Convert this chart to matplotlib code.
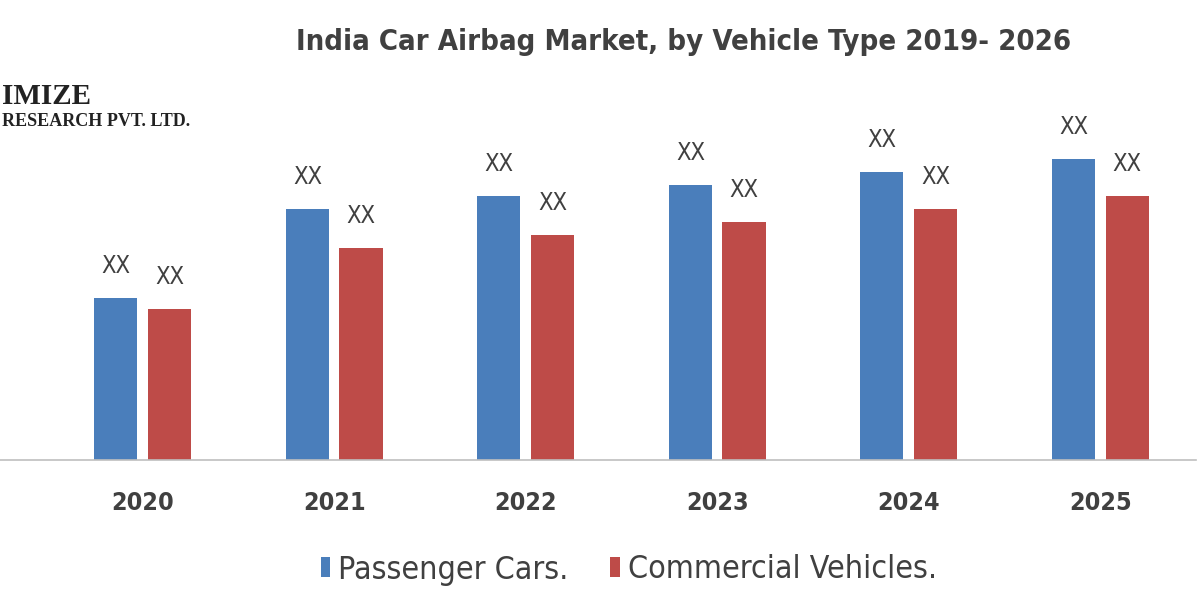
import matplotlib.pyplot as plt
import numpy as np

years = ['2020', '2021', '2022', '2023', '2024', '2025']
passenger = [162, 251, 264, 275, 288, 301]
commercial = [151, 212, 225, 238, 251, 264]
series_names = ['Passenger Cars.', 'Commercial Vehicles.']

plt.rcParams['font.family'] = ['DejaVu Sans']
plt.rcParams['font.stretch'] = 'condensed'
txt = '#404040'
blue = '#4a7ebb'
red = '#be4b48'

fig = plt.figure(figsize=(12, 6), dpi=100)
ax = fig.add_axes([0, 140 / 600, 1196 / 1200, 380 / 600])

x = np.arange(len(years))
w = 0.225
b1 = ax.bar(x - 0.14, passenger, w, color=blue, label=series_names[0])
b2 = ax.bar(x + 0.14, commercial, w, color=red, label=series_names[1])

for bars in (b1, b2):
    for r in bars:
        ax.text(r.get_x() + r.get_width() / 2, r.get_height() + 20, 'XX',
                ha='center', va='bottom', fontsize=17, color=txt)

ax.set_xlim(-0.745, 5.5)
ax.set_ylim(0, 380)
ax.set_yticks([])
for s in ['top', 'right', 'left']:
    ax.spines[s].set_visible(False)
ax.spines['bottom'].set_color('#bfbfbf')
ax.spines['bottom'].set_linewidth(1.2)
ax.set_xticks(x)
ax.set_xticklabels(years, fontsize=18, color=txt, fontweight='bold')
ax.tick_params(axis='x', length=0, pad=22)

fig.text(0.57, 0.93, 'India Car Airbag Market, by Vehicle Type 2019- 2026',
         ha='center', va='center', fontsize=21, color=txt, fontweight='bold')

# watermark logo (left part cut off in the source image)
fig.text(0.002, 1 - 96 / 600, 'IMIZE', ha='left', va='center',
         fontsize=21, family='Liberation Serif', fontweight='bold', color='#222222')
fig.text(0.002, 1 - 122 / 600, 'RESEARCH PVT. LTD.', ha='left',
         va='center', fontsize=13, family='Liberation Serif', fontweight='bold',
         color='#222222')

fig.legend(handles=[b1, b2], loc='center', bbox_to_anchor=(0.524, 1 - 570 / 600),
           ncol=2, frameon=False, fontsize=23, labelcolor=txt,
           handlelength=0.3, handleheight=0.6, handletextpad=0.25, columnspacing=1.3)

fig.savefig('out.png', dpi=100)
